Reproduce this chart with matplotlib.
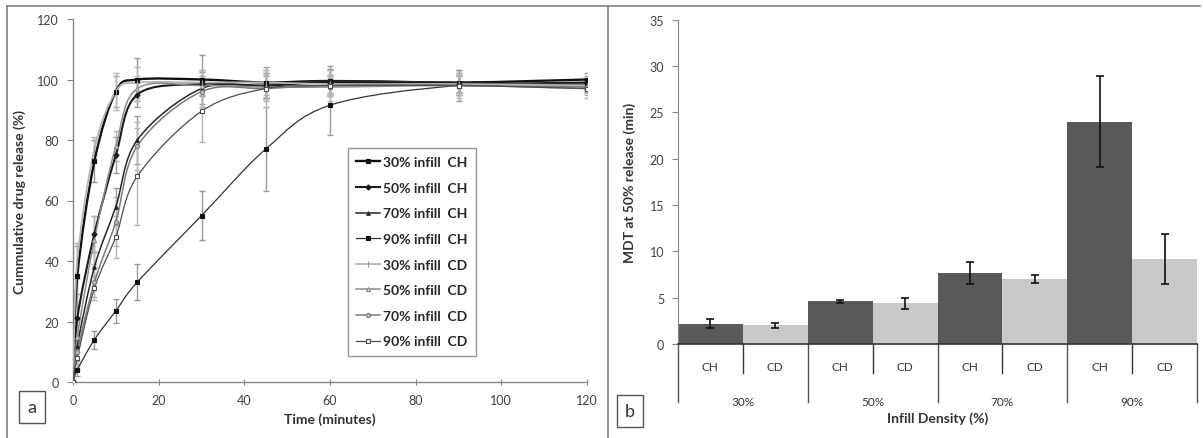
import numpy as np
import matplotlib
matplotlib.use("Agg")
import matplotlib.pyplot as plt
from matplotlib.path import Path
from matplotlib.patches import PathPatch
from matplotlib.lines import Line2D
import matplotlib.transforms as mtransforms

plt.rcParams['font.family'] = ['Lato', 'DejaVu Sans']

# ---------------- data: panel a ----------------
time_min = [0, 1, 5, 10, 15, 30, 45, 60, 90, 120]

ch30 = [0, 35, 73, 96, 100, 100, 99, 99.5, 99, 100]
ch30_err = [0, 10, 7, 5, 7, 8, 5, 5, 4, 2]
ch50 = [0, 21, 49, 75, 95, 98.5, 98, 99, 98.5, 99]
ch50_err = [0, 8, 6, 6, 4, 4, 4, 4, 3, 2]
ch70 = [0, 12, 38, 58, 80, 97, 98, 99.5, 99, 98]
ch70_err = [0, 5, 5, 6, 8, 6, 4, 4, 3, 2]
ch90 = [0, 4, 14, 23.5, 33, 55, 77, 91.5, 98, 98.5]
ch90_err = [0, 2, 3, 4, 6, 8, 14, 10, 5, 2]
cd30 = [0, 40, 77, 96, 99, 99, 99, 98.5, 98.5, 98]
cd30_err = [0, 6, 4, 6, 5, 4, 4, 3, 3, 2]
cd50 = [0, 15, 47, 78, 97, 98, 97.5, 97.5, 98, 97]
cd50_err = [0, 5, 8, 5, 4, 3, 4, 3, 3, 2]
cd70 = [0, 10, 33, 53, 78, 96, 97, 98, 98, 97.5]
cd70_err = [0, 4, 5, 8, 8, 5, 4, 3, 3, 2]
cd90 = [0, 8, 31, 48, 68, 89.5, 97, 98, 98, 97]
cd90_err = [0, 4, 4, 7, 16, 10, 6, 5, 4, 3]

series_labels = ["30% infill  CH", "50% infill  CH", "70% infill  CH", "90% infill  CH",
                 "30% infill  CD", "50% infill  CD", "70% infill  CD", "90% infill  CD"]

# ---------------- data: panel b ----------------
densities = ["30%", "50%", "70%", "90%"]
formulations = ["CH", "CD"]
mdt_ch = [2.2, 4.6, 7.7, 24.0]
mdt_ch_err = [0.5, 0.2, 1.2, 4.9]
mdt_cd = [2.0, 4.4, 7.0, 9.2]
mdt_cd_err = [0.3, 0.6, 0.4, 2.7]

# ---------------- figure ----------------
W, H = 1203, 439
fig = plt.figure(figsize=(W / 100, H / 100), dpi=100)

def fx(px):
    return px / W

def fy(py):
    return 1 - py / H

# frame lines
for (x0, y0, x1, y1) in [(7, 7, 1200, 7), (7, 7, 7, 439), (608, 7, 608, 439)]:
    fig.add_artist(Line2D([fx(x0), fx(x1)], [fy(y0), fy(y1)], color="#7f7f7f", lw=1.2,
                          transform=fig.transFigure))

axis_col = "#868686"
tick_col = "#404040"


def smooth(ax, x, y, **kw):
    P = np.column_stack([x, y]).astype(float)
    n = len(P)
    verts = [P[0]]
    for i in range(n - 1):
        p0 = P[i - 1] if i > 0 else P[i]
        p3 = P[i + 2] if i + 2 < n else P[i + 1]
        c1 = P[i] + (P[i + 1] - p0) / 6.0
        c2 = P[i + 1] - (p3 - P[i]) / 6.0
        verts += [c1, c2, P[i + 1]]
    codes = [Path.MOVETO] + [Path.CURVE4] * (3 * (n - 1))
    patch = PathPatch(Path(verts, codes), fill=False, **kw)
    ax.add_patch(patch)


# ---------------- panel a ----------------
axA = fig.add_axes([fx(73), fy(383), fx(587) - fx(73), fy(20) - fy(383)])
styles = [
    # values, err, line color, lw, marker, msize, mfc, mec, errcolor
    (ch30, ch30_err, "#111111", 1.7, "s", 3.2, "#111111", "#111111", "#9a9a9a"),
    (ch50, ch50_err, "#1a1a1a", 1.5, "D", 2.6, "#1a1a1a", "#1a1a1a", "#9a9a9a"),
    (ch70, ch70_err, "#262626", 1.1, "^", 2.6, "#262626", "#262626", "#9a9a9a"),
    (ch90, ch90_err, "#333333", 0.9, "s", 2.8, "#111111", "#111111", "#9a9a9a"),
    (cd30, cd30_err, "#b5b5b5", 1.3, "|", 5, "#b5b5b5", "#9a9a9a", "#b5b5b5"),
    (cd50, cd50_err, "#8c8c8c", 1.1, "^", 3.0, "#e0e0e0", "#8c8c8c", "#b5b5b5"),
    (cd70, cd70_err, "#7a7a7a", 1.1, "o", 3.0, "#bdbdbd", "#7a7a7a", "#b5b5b5"),
    (cd90, cd90_err, "#4d4d4d", 0.9, "s", 3.4, "white", "#4d4d4d", "#b5b5b5"),
]
handles = []
for (vals, err, lc, lw, mk, ms, mfc, mec, ec), lab in zip(styles, series_labels):
    axA.errorbar(time_min, vals, yerr=err, fmt="none", ecolor=ec, elinewidth=1.0,
                 capsize=2.5, capthick=1.0, zorder=2)
    smooth(axA, time_min, vals, edgecolor=lc, lw=lw, zorder=3)
    axA.plot(time_min, vals, linestyle="none", marker=mk, ms=ms, mfc=mfc, mec=mec,
             mew=0.8, zorder=4)
    handles.append(Line2D([], [], color=lc, lw=lw, marker=mk, ms=ms, mfc=mfc, mec=mec, mew=0.8))

axA.set_xlim(0, 120)
axA.set_ylim(0, 120)
axA.set_xticks(np.arange(0, 121, 20))
axA.set_yticks(np.arange(0, 121, 20))
for s in ["top", "right"]:
    axA.spines[s].set_visible(False)
for s in ["left", "bottom"]:
    axA.spines[s].set_color(axis_col)
    axA.spines[s].set_linewidth(1.0)
axA.tick_params(axis="x", direction="inout", length=5, color=axis_col, labelcolor=tick_col,
                labelsize=9, pad=6)
axA.tick_params(axis="y", direction="out", length=4, color=axis_col, labelcolor=tick_col,
                labelsize=9, pad=6)
axA.set_xlabel("Time (minutes)", fontsize=10, fontweight="bold", color="#333333", labelpad=5)
axA.set_ylabel("Cummulative drug release (%)", fontsize=10, fontweight="bold", color="#333333",
               labelpad=8)
leg = axA.legend(handles, series_labels, loc="upper left", bbox_to_anchor=(0.535, 0.645),
                 frameon=True, fancybox=False, edgecolor="#7f7f7f",
                 prop={"weight": "bold", "size": 10}, handlelength=1.7, handletextpad=0.2,
                 labelspacing=0.98, borderpad=0.6, borderaxespad=0)
leg.get_frame().set_linewidth(1.0)
for t in leg.get_texts():
    t.set_color("#262626")

fig.text(fx(32), fy(408), "a", ha="center", va="center", fontsize=13, color="#333333",
         bbox=dict(boxstyle="square,pad=0.45", fc="white", ec="#555555", lw=1.0))

# ---------------- panel b ----------------
axB = fig.add_axes([fx(678), fy(345), fx(1197) - fx(678), fy(20.7) - fy(345)])
n_groups = len(densities)
values, errs, colors, labels = [], [], [], []
for i in range(n_groups):
    values += [mdt_ch[i], mdt_cd[i]]
    errs += [mdt_ch_err[i], mdt_cd_err[i]]
    colors += ["#595959", "#c9c9c9"]
    labels += formulations
pos = np.arange(len(values))
axB.bar(pos, values, width=1.0, color=colors, edgecolor="none", zorder=2)
axB.errorbar(pos, values, yerr=errs, fmt="none", ecolor="#111111", elinewidth=1.2,
             capsize=3, capthick=1.2, zorder=3)
axB.set_xlim(-0.5, len(values) - 0.5)
axB.set_ylim(0, 35)
axB.set_yticks(np.arange(0, 36, 5))
axB.set_xticks(pos)
axB.set_xticklabels(labels)
axB.tick_params(axis="x", length=0, labelsize=8.5, labelcolor="#333333", pad=12)
axB.tick_params(axis="y", direction="out", length=4, color=axis_col, labelcolor=tick_col,
                labelsize=9, pad=6)
for s in ["top", "right"]:
    axB.spines[s].set_visible(False)
axB.spines["left"].set_color(axis_col)
axB.spines["bottom"].set_color("#333333")
axB.spines["bottom"].set_linewidth(1.2)

trans = mtransforms.blended_transform_factory(axB.transData, axB.transAxes)
for i in range(n_groups):
    # short separator between CH and CD
    axB.plot([2 * i + 0.5] * 2, [0, -0.088], transform=trans, color="#333333", lw=1.0,
             clip_on=False)
for b in np.arange(-0.5, len(values), 2):
    axB.plot([b, b], [0, -0.18], transform=trans, color="#555555", lw=1.0, clip_on=False)
for i, d in enumerate(densities):
    axB.text(2 * i + 0.5, -0.176, d, transform=trans, ha="center", va="center",
             fontsize=8.5, color="#333333")
axB.text(0.5, -0.228, "Infill Density (%)", transform=axB.transAxes, ha="center",
         va="center", fontsize=10, fontweight="bold", color="#333333")
axB.set_ylabel("MDT at 50% release (min)", fontsize=10, fontweight="bold", color="#333333",
               labelpad=10)

fig.text(fx(630), fy(412), "b", ha="center", va="center", fontsize=13, color="#333333",
         bbox=dict(boxstyle="square,pad=0.45", fc="white", ec="#555555", lw=1.0))

fig.savefig("out.png", dpi=100)
